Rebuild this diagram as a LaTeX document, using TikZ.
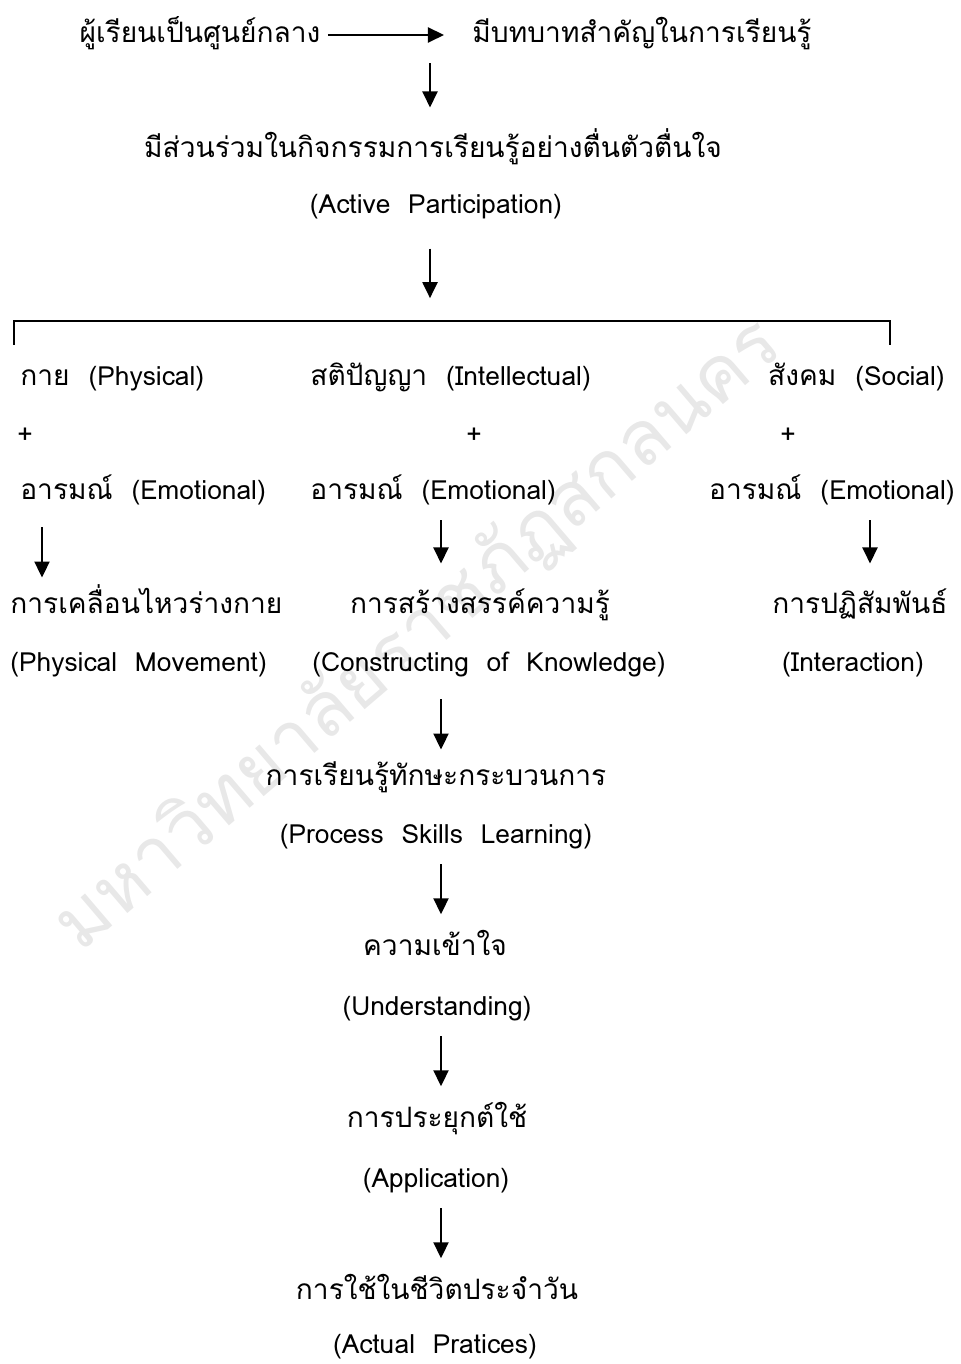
\documentclass[tikz,border=0pt]{standalone}
\usepackage{fontspec}
\newfontfamily\thaifont[Script=Thai]{Loma}
\newcommand{\entxt}[1]{{\fontsize{15}{18}\selectfont #1}}
\usetikzlibrary{arrows.meta}

\begin{document}
\begin{tikzpicture}[x=0.02cm,y=-0.02cm,>={Triangle[length=3.2mm,width=3mm]},
    lbl/.style={font=\thaifont\fontsize{16}{18}\selectfont,inner xsep=0pt,inner ysep=8pt,text height=12pt,text depth=4pt},
    arr/.style={->,line width=1.2pt},
    brace line/.style={line width=0.9pt}]

\useasboundingbox (0,0) rectangle (960,1364);

% watermark
\node[rotate=40.5,text=gray!18,font=\thaifont\fontsize{43}{43}\selectfont] (wm) at (418,635) {มหาวิทยาลัยราชภัฏสกลนคร};

% columns for the arrows
\coordinate (cT) at (430,0);
\coordinate (cL) at (42,0);
\coordinate (cM) at (441,0);
\coordinate (cR) at (870,0);

\node[lbl] (center) at (200,35) {ผู้เรียนเป็นศูนย์กลาง};
\node[lbl] (role) at (642,35) {มีบทบาทสำคัญในการเรียนรู้};
\node[lbl] (part) at (433,150) {มีส่วนร่วมในกิจกรรมการเรียนรู้อย่างตื่นตัวตื่นใจ};
\node[lbl] (partE) at (436,206) {\entxt{(Active\ \ Participation)}};

% bracket
\coordinate (brL) at (14,345);
\coordinate (brR) at (890,345);
\coordinate (brM) at (430,321);
\draw[brace line] (brL) -- ++(0,-24) -| (brR);

\node[lbl,anchor=west] (phys) at (20,378) {กาย\ \ \entxt{(Physical)}};
\node[lbl,anchor=west] (intel) at (310,378) {สติปัญญา\ \ \entxt{(Intellectual)}};
\node[lbl,anchor=east] (soc) at (945,378) {สังคม\ \ \entxt{(Social)}};

\node[lbl] (plus1) at (25,436) {\entxt{+}};
\node[lbl] (plus2) at (474,436) {\entxt{+}};
\node[lbl] (plus3) at (788,436) {\entxt{+}};

\node[lbl,anchor=west] (emo1) at (20,492) {อารมณ์\ \ \entxt{(Emotional)}};
\node[lbl,anchor=west] (emo2) at (310,492) {อารมณ์\ \ \entxt{(Emotional)}};
\node[lbl,anchor=east] (emo3) at (955,492) {อารมณ์\ \ \entxt{(Emotional)}};

\node[lbl,anchor=west] (move) at (10,606) {การเคลื่อนไหวร่างกาย};
\node[lbl,anchor=west] (moveE) at (10,664) {\entxt{(Physical\ \ Movement)}};
\node[lbl] (know) at (480,606) {การสร้างสรรค์ความรู้};
\node[lbl] (knowE) at (489,664) {\entxt{(Constructing\ \ of\ \ Knowledge)}};
\node[lbl] (inter) at (860,606) {การปฏิสัมพันธ์};
\node[lbl] (interE) at (853,664) {\entxt{(Interaction)}};

\node[lbl] (proc) at (436,778) {การเรียนรู้ทักษะกระบวนการ};
\node[lbl] (procE) at (436,836) {\entxt{(Process\ \ Skills\ \ Learning)}};
\node[lbl] (und) at (435,948) {ความเข้าใจ};
\node[lbl] (undE) at (437,1008) {\entxt{(Understanding)}};
\node[lbl] (app) at (437,1120) {การประยุกต์ใช้};
\node[lbl] (appE) at (436,1180) {\entxt{(Application)}};
\node[lbl] (daily) at (437,1292) {การใช้ในชีวิตประจำวัน};
\node[lbl,inner ysep=0pt] (dailyE) at (435,1346) {\entxt{(Actual\ \ Pratices)}};

% connectors
\draw[arr,shorten <=4pt,shorten >=16pt] (center.east) -- (role.west);
\draw[arr,shorten >=8pt] (role.south -| cT) -- (part.north -| cT);
\draw[arr,shorten <=8pt,shorten >=13pt] (partE.south -| cT) -- (brM);
\draw[arr,shorten <=4pt] (emo1.south -| cL) -- (move.north -| cL);
\draw[arr,shorten >=8pt] (emo2.south -| cM) -- (know.north -| cM);
\draw[arr,shorten >=8pt] (emo3.south -| cR) -- (inter.north -| cR);
\draw[arr,shorten <=4pt] (knowE.south -| cM) -- (proc.north -| cM);
\draw[arr,shorten >=3pt] (procE.south -| cM) -- (und.north -| cM);
\draw[arr,shorten >=3pt] (undE.south -| cM) -- (app.north -| cM);
\draw[arr,shorten >=3pt] (appE.south -| cM) -- (daily.north -| cM);
\end{tikzpicture}
\end{document}
